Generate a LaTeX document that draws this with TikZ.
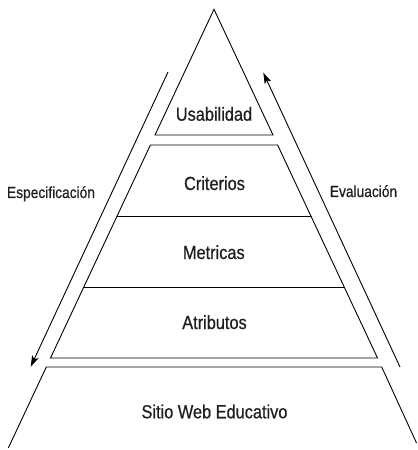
\documentclass[tikz,border=0pt]{standalone}
\usepackage{fontspec}
\setmainfont{Liberation Sans}[FakeStretch=0.86,FakeBold=0.6]
\usetikzlibrary{arrows.meta}
\begin{document}
\begin{tikzpicture}[x=1bp,y=-1bp,
  edge/.style={line width=0.9bp, black},
  flow/.style={line width=0.9bp, black, -{Stealth[length=11bp,width=7bp,inset=2.5bp]}},
  lbl/.style={anchor=base, inner sep=0pt, text=black!88, font=\fontsize{19bp}{22bp}\selectfont},
  side/.style={anchor=base, inner sep=0pt, text=black!88, font=\fontsize{16bp}{19bp}\selectfont}]
\useasboundingbox (0,0) rectangle (417,450);
% top triangle
\coordinate (apex) at (214,9.3);
\coordinate (tl) at (155,135);
\coordinate (tr) at (273,135);
\draw[edge] (tl) -- (apex) -- (tr) -- cycle;
% middle trapezoid
\coordinate (ml) at (150.4,145);
\coordinate (mr) at (277.6,145);
\coordinate (bl) at (50.5,358);
\coordinate (br) at (377.5,358);
\draw[edge] (ml) -- (mr) -- (br) -- (bl) -- cycle;
\draw[edge] (117.1,216) -- (310.9,216);
\draw[edge] (83.8,287) -- (344.2,287);
% bottom trapezoid (open)
\coordinate (sl) at (46.3,367);
\coordinate (sr) at (381.7,367);
\coordinate (el) at (8.3,448);
\coordinate (er) at (416.5,443);
\draw[edge] (el) -- (sl) -- (sr) -- (er);
% arrows
\coordinate (a1) at (168,72);
\coordinate (a2) at (30.7,366.7);
\coordinate (b1) at (400,367);
\coordinate (b2) at (263.3,72.7);
\draw[flow] (a1) -- (a2);
\draw[flow] (b1) -- (b2);
% labels
\node[lbl] (usab) at (214,120.7) {Usabilidad};
\node[lbl] (crit) at (214.5,190) {Criterios};
\node[lbl] (metr) at (213.8,259) {Metricas};
\node[lbl] (atri) at (214.5,329) {Atributos};
\node[lbl] (sitio) at (214.5,418.3) {Sitio Web Educativo};
\node[side] (espec) at (51,198) {Especificación};
\node[side] (eval) at (363.5,197) {Evaluación};
\end{tikzpicture}
\end{document}
